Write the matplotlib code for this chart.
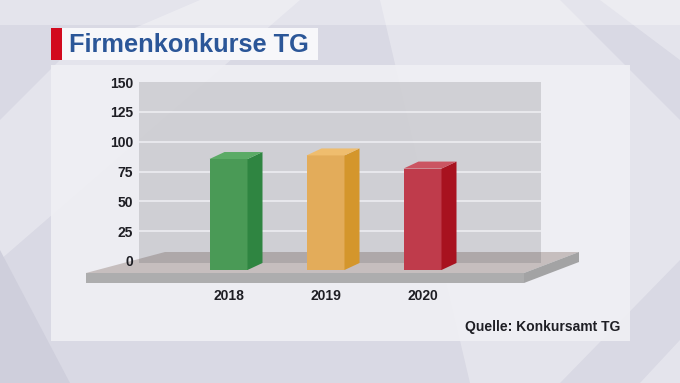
import matplotlib
matplotlib.use("Agg")
import matplotlib.pyplot as plt
from matplotlib.patches import Rectangle, Polygon

# ---------------- data ----------------
years = ["2018", "2019", "2020"]
values = [93, 96, 85]
y_ticks = [0, 25, 50, 75, 100, 125, 150]
title = "Firmenkonkurse TG"
source = "Quelle: Konkursamt TG"

front_colors = ["#4a9a56", "#e3ac5a", "#bf3b4b"]
side_colors = ["#2f8541", "#d4962c", "#a8121f"]
top_colors = ["#5bab66", "#efbd6e", "#cb5562"]

plt.rcParams['font.family'] = ['Liberation Sans', 'DejaVu Sans']

W, H = 680, 383
fig = plt.figure(figsize=(W / 100, H / 100), dpi=100)

# ---------------- background (pixel coords) ----------------
bg = fig.add_axes([0, 0, 1, 1])
bg.set_xlim(0, W)
bg.set_ylim(H, 0)
bg.axis("off")
bg.add_patch(Rectangle((0, 0), W, H, facecolor="#d9d9e4", edgecolor="none", zorder=0))
light = [
    [(0, 0), (680, 0), (680, 25), (0, 25)],
    [(380, 0), (560, 0), (680, 120), (680, 260), (560, 383), (470, 383)],
    [(600, 0), (680, 0), (680, 60)],
    [(0, 120), (60, 60), (200, 0), (300, 0), (0, 260)],
    [(640, 383), (680, 340), (680, 383)],
]
for p in light:
    bg.add_patch(Polygon(p, closed=True, facecolor="white", alpha=0.3,
                         edgecolor="none", zorder=1))
bg.add_patch(Polygon([(0, 250), (70, 383), (0, 383)], closed=True,
                     facecolor="#cfcfdc", edgecolor="none", zorder=1))
# panel
bg.add_patch(Rectangle((51, 65), 579, 276, facecolor="#f0f0f4", alpha=0.9,
                       edgecolor="none", zorder=2))
# title box
bg.add_patch(Rectangle((61, 28), 257, 32, facecolor="#f7f7fa", edgecolor="none", zorder=3))
bg.add_patch(Rectangle((51, 28), 11, 32, facecolor="#d20a1e", edgecolor="none", zorder=4))
fig.text(69 / W, 1 - 44.5 / H, title, ha="left", va="center", color="#2b5698",
         fontsize=18.3, fontweight="bold")
fig.text(620 / W, 1 - 327.5 / H, source, ha="right", va="center", color="#1e1e24",
         fontsize=10, fontweight="bold")

# ---------------- chart axes ----------------
px0, px1 = 139, 541        # wall left/right (px)
py_top, py_zero = 82, 261  # value 150 / value 0 (px)
ax = fig.add_axes([px0 / W, (H - py_zero) / H, (px1 - px0) / W, (py_zero - py_top) / H])
sx = 97.0                  # px per category step
cx0 = 228.5                # px of first category
x_lo = (px0 - cx0) / sx
x_hi = (px1 - cx0) / sx
ax.set_xlim(x_lo, x_hi)
ax.set_ylim(0, 150)
ax.set_facecolor("none")
for s in ax.spines.values():
    s.set_visible(False)

upp = 150 / (py_zero - py_top)  # units per px
def px2x(p):
    return (p - cx0) / sx
def py2v(p):
    return (py_zero - p) * upp

# floor (slab)
f_front = py2v(273)
f_back = py2v(252)
f_bottom = py2v(283)
f_back_bottom = py2v(262)
fl, fr, br, bl = px2x(86), px2x(524), px2x(579), px2x(165)
ax.add_patch(Polygon([(fl, f_front), (fr, f_front), (br, f_back), (bl, f_back)],
                     closed=True, facecolor="#c6bebe", edgecolor="none",
                     clip_on=False, zorder=1))
ax.add_patch(Polygon([(fl, f_front), (fr, f_front), (fr, f_bottom), (fl, f_bottom)],
                     closed=True, facecolor="#adadae", edgecolor="none",
                     clip_on=False, zorder=1))
ax.add_patch(Polygon([(fr, f_front), (br, f_back), (br, f_back_bottom), (fr, f_bottom)],
                     closed=True, facecolor="#a3a3a4", edgecolor="none",
                     clip_on=False, zorder=1))

# wall
ax.add_patch(Rectangle((x_lo, py2v(263)), x_hi - x_lo, 150 - py2v(263),
                       facecolor="#3c3c44", alpha=0.17, edgecolor="none",
                       clip_on=False, zorder=2))
ax.hlines(y_ticks[1:-1], x_lo, x_hi, colors="#f2f2f6", linewidth=1.2, alpha=0.85, zorder=3)

# bars (3D)
bar_w = 38 / sx
dx = 15 / sx
dy = 7 * upp
base = py2v(270)
xs = list(range(len(years)))
ax.bar(xs, values, width=bar_w, bottom=base, color=front_colors,
       edgecolor="none", zorder=5, clip_on=False)
for i, v in enumerate(values):
    xl = xs[i] - bar_w / 2
    xr = xs[i] + bar_w / 2
    top = base + v
    ax.add_patch(Polygon([(xr, base), (xr + dx, base + dy), (xr + dx, top + dy), (xr, top)],
                         closed=True, facecolor=side_colors[i], edgecolor="none",
                         zorder=5, clip_on=False))
    ax.add_patch(Polygon([(xl, top), (xr, top), (xr + dx, top + dy), (xl + dx, top + dy)],
                         closed=True, facecolor=top_colors[i], edgecolor="none",
                         zorder=5, clip_on=False))

ax.set_yticks(y_ticks)
ax.set_yticklabels([str(t) for t in y_ticks], fontsize=10, fontweight="bold", color="#1e1e24")
ax.tick_params(axis="y", length=0, pad=6 * 0.72)
ax.set_xticks(xs)
ax.set_xticklabels(years, fontsize=10, fontweight="bold", color="#1e1e24")
ax.tick_params(axis="x", length=0, pad=28 * 0.72)

fig.savefig("out.png", dpi=100)
